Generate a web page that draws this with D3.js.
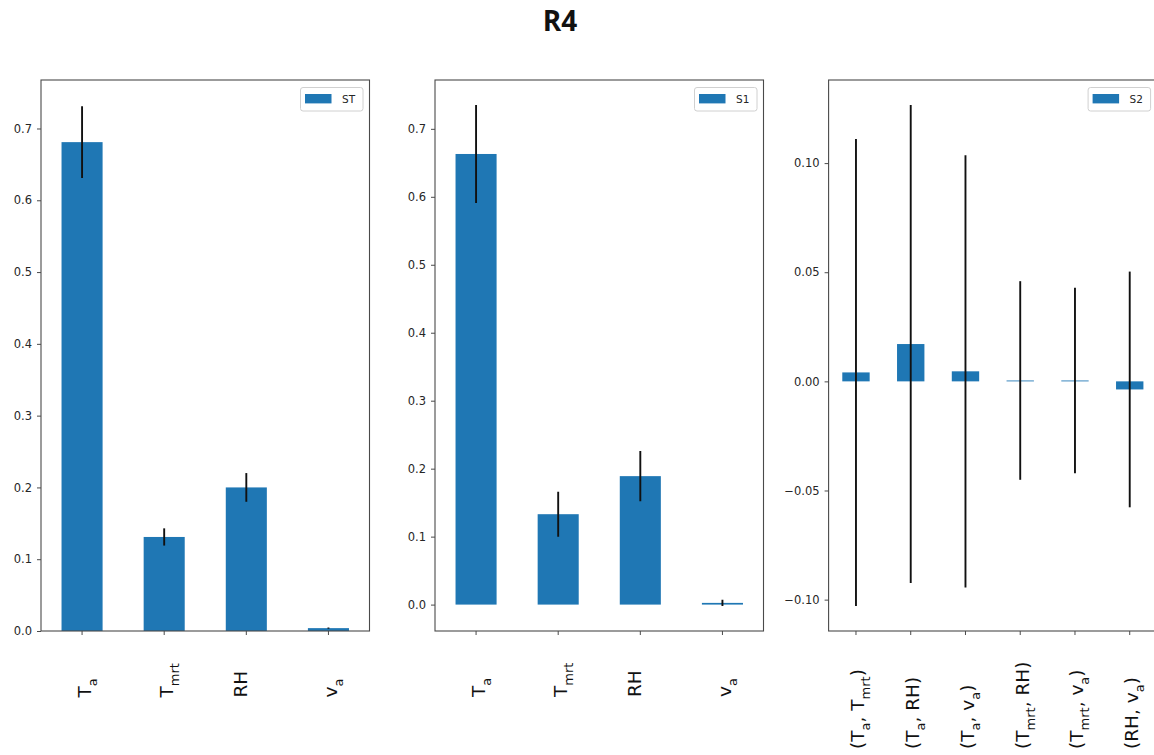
<!DOCTYPE html>
<html>
<head>
<meta charset="utf-8">
<script src="https://cdn.jsdelivr.net/npm/d3@7"></script>
<style>
  html, body { margin: 0; padding: 0; background: #fff; }
  svg { display: block; }
</style>
</head>
<body>
<svg id="chart" width="1154" height="755"></svg>
<script>
// Sensitivity indices for the R4 run: total (ST), first order (S1), second order (S2)
const variables = ["T_a", "T_mrt", "RH", "v_a"];
const pairs = ["(T_a, T_mrt)", "(T_a, RH)", "(T_a, v_a)", "(T_mrt, RH)", "(T_mrt, v_a)", "(RH, v_a)"];

const stValues = [0.681, 0.131, 0.200, 0.004];
const stErrors = [0.050, 0.012, 0.020, 0.001];

const s1Values = [0.663, 0.133, 0.189, 0.0025];
const s1Errors = [0.072, 0.033, 0.037, 0.0045];

const s2Values = [0.0041, 0.0171, 0.0046, 0.0004, 0.0004, -0.0037];
const s2Errors = [0.107, 0.1095, 0.099, 0.0455, 0.0425, 0.054];

const firstTicks = [0.0, 0.1, 0.2, 0.3, 0.4, 0.5, 0.6, 0.7];
const secondTicks = [-0.10, -0.05, 0.00, 0.05, 0.10];

const chartTitle = "R4";

const panels = [
  { name: "ST", cats: variables, values: stValues, errors: stErrors, ticks: firstTicks, fmt: ".1f", left: 41, labelY: 697.5 },
  { name: "S1", cats: variables, values: s1Values, errors: s1Errors, ticks: firstTicks, fmt: ".1f", left: 435, labelY: 697 },
  { name: "S2", cats: pairs, values: s2Values, errors: s2Errors, ticks: secondTicks, fmt: ".2f", left: 828.6, labelY: 749 }
];

const svg = d3.select("#chart");
const plotTop = 80, plotBottom = 631, plotWidth = 328.5;
const barColor = "#1f77b4";
const axisColor = "#4a4a4a";
const textColor = "#262626";
const tickFont = "'DejaVu Sans', sans-serif";

svg.append("rect").attr("width", 1154).attr("height", 755).attr("fill", "#fff");

svg.append("text")
  .attr("x", 560).attr("y", 31)
  .attr("text-anchor", "middle")
  .attr("font-family", "'Open Sans', sans-serif")
  .attr("font-weight", 700)
  .attr("font-size", 28)
  .attr("fill", "#111")
  .text(chartTitle);

// Split "T_mrt"-style names into main text and subscript pieces
function parseLabel(s) {
  const parts = [];
  const re = /_([A-Za-z]+)/g;
  let last = 0, m;
  while ((m = re.exec(s)) !== null) {
    if (m.index > last) parts.push({ t: s.slice(last, m.index), sub: false });
    parts.push({ t: m[1], sub: true });
    last = re.lastIndex;
  }
  if (last < s.length) parts.push({ t: s.slice(last), sub: false });
  return parts;
}

panels.forEach(p => {
  const g = svg.append("g").attr("transform", `translate(${p.left},0)`);

  const lows = p.values.map((v, i) => Math.min(v, v - p.errors[i]));
  const highs = p.values.map((v, i) => Math.max(v, v + p.errors[i]));
  let lo = Math.min(0, d3.min(lows));
  let hi = Math.max(0, d3.max(highs));
  const span = hi - lo;
  if (lo < 0) lo -= span * 0.05;
  hi += span * 0.05;

  const y = d3.scaleLinear().domain([lo, hi]).range([plotBottom, plotTop]);
  const x = d3.scaleBand().domain(p.cats).range([0, plotWidth]).paddingInner(0.5).paddingOuter(0.25);

  const clip = "clip-" + p.name;
  g.append("clipPath").attr("id", clip)
    .append("rect").attr("x", 0).attr("y", plotTop).attr("width", plotWidth).attr("height", plotBottom - plotTop);

  const plot = g.append("g").attr("clip-path", `url(#${clip})`);

  // bars
  plot.selectAll("rect.bar").data(p.cats).join("rect")
    .attr("class", "bar")
    .attr("x", d => x(d))
    .attr("width", x.bandwidth())
    .attr("y", (d, i) => y(Math.max(0, p.values[i])))
    .attr("height", (d, i) => Math.abs(y(p.values[i]) - y(0)))
    .attr("fill", barColor);

  // error bars
  plot.selectAll("line.err").data(p.cats).join("line")
    .attr("class", "err")
    .attr("x1", d => x(d) + x.bandwidth() / 2)
    .attr("x2", d => x(d) + x.bandwidth() / 2)
    .attr("y1", (d, i) => y(p.values[i] - p.errors[i]))
    .attr("y2", (d, i) => y(p.values[i] + p.errors[i]))
    .attr("stroke", "#111")
    .attr("stroke-width", 1.9);

  // frame
  g.append("rect")
    .attr("x", 0).attr("y", plotTop).attr("width", plotWidth).attr("height", plotBottom - plotTop)
    .attr("fill", "none").attr("stroke", axisColor).attr("stroke-width", 1.1);

  // y axis
  const yAxis = d3.axisLeft(y).tickValues(p.ticks).tickFormat(d3.format(p.fmt)).tickSize(4).tickPadding(5);
  const ya = g.append("g").call(yAxis);
  ya.select(".domain").remove();
  ya.selectAll(".tick line").attr("stroke", axisColor).attr("stroke-width", 1);
  ya.selectAll(".tick text")
    .attr("font-family", tickFont).attr("font-size", 11.5).attr("fill", textColor);

  // x axis ticks
  const xa = g.append("g").attr("transform", `translate(0,${plotBottom})`)
    .call(d3.axisBottom(x).tickSize(4).tickFormat(""));
  xa.select(".domain").remove();
  xa.selectAll(".tick line").attr("stroke", axisColor).attr("stroke-width", 1);

  // rotated category labels with subscripts
  p.cats.forEach(c => {
    const parts = parseLabel(c);
    const hasSub = parts.some(q => q.sub);
    const cx = x(c) + x.bandwidth() / 2 + (hasSub ? 8.5 : 1);
    const t = g.append("text")
      .attr("transform", `translate(${cx},${p.labelY}) rotate(-90)`)
      .attr("text-anchor", "start")
      .attr("font-family", tickFont)
      .attr("font-size", 18.5)
      .attr("fill", "#111");
    let shifted = false;
    parts.forEach(q => {
      const ts = t.append("tspan").text(q.t);
      if (q.sub) {
        ts.attr("font-size", 13);
        if (!shifted) { ts.attr("dy", 6); shifted = true; }
      } else if (shifted) {
        ts.attr("dy", -6); shifted = false;
      }
    });
  });

  // legend
  const lg = g.append("g").attr("transform", `translate(${plotWidth - 69},${plotTop + 7.5})`);
  lg.append("rect")
    .attr("width", 62.5).attr("height", 23.5).attr("rx", 2.5)
    .attr("fill", "#fff").attr("stroke", "#d0d0d0").attr("stroke-width", 1);
  lg.append("rect")
    .attr("x", 4.5).attr("y", 6.5).attr("width", 26.5).attr("height", 9.4)
    .attr("fill", barColor);
  lg.append("text")
    .attr("x", 41.5).attr("y", 15.5)
    .attr("font-family", tickFont).attr("font-size", 10.5).attr("fill", textColor)
    .text(p.name);
});
</script>
</body>
</html>
